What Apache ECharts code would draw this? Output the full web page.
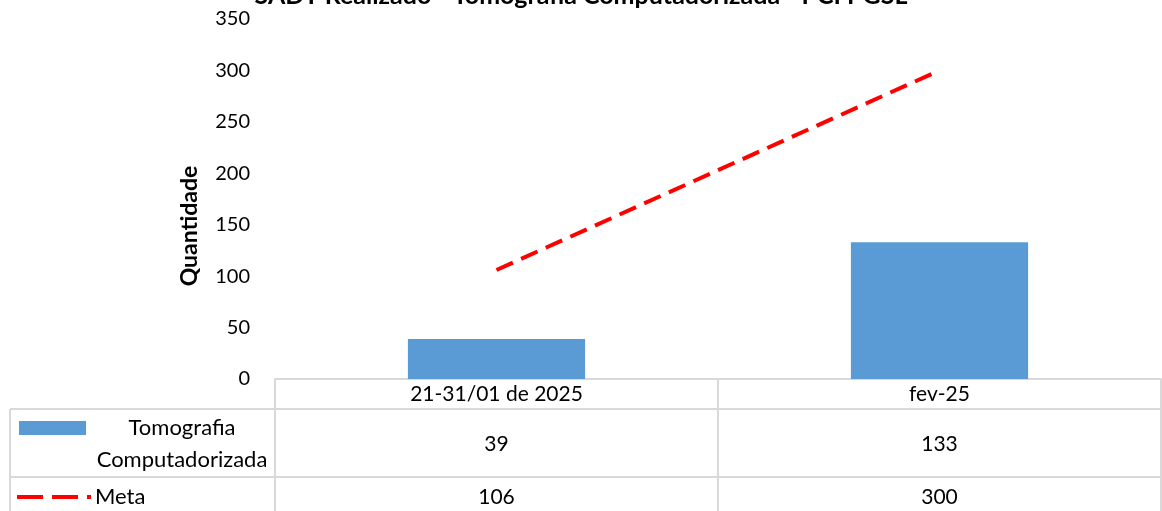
<!DOCTYPE html>
<html><head><meta charset="utf-8">
<script src="https://cdn.jsdelivr.net/npm/echarts@6/dist/echarts.min.js"></script>
<style>html,body{margin:0;padding:0;background:#fff}#c{width:1162px;height:511px}</style>
</head><body><div id="c"></div>
<script>
const chartTitle = 'SADT Realizado - Tomografia Computadorizada - PCI PGSL';
const categories = ['21-31/01 de 2025', 'fev-25'];
const tomografia = [39, 133];
const meta = [106, 300];
const seriesNames = ['Tomografia Computadorizada', 'Meta'];
const tableLabels = ['Tomografia\nComputadorizada', 'Meta'];
const yAxisName = 'Quantidade';
const yMin = 0, yMax = 350, yStep = 50;

const FONT = 'Lato';
const BLUE = '#5B9BD5';
const RED = '#FF0000';
const GRID = '#D9D9D9';

const chart = echarts.init(document.getElementById('c'), null, {renderer: 'canvas'});
chart.setOption({
  animation: false,
  backgroundColor: '#fff',
  textStyle: {fontFamily: FONT},
  title: {
    text: chartTitle, left: 'center', top: -22,
    textStyle: {fontFamily: FONT, fontSize: 25, fontWeight: 'bold', color: '#000'}
  },
  grid: {left: 275, right: 1, top: 19, bottom: 132, containLabel: false},
  xAxis: {
    type: 'category', data: categories, boundaryGap: true,
    axisLine: {lineStyle: {color: GRID, width: 2}},
    axisTick: {show: false},
    axisLabel: {fontFamily: FONT, fontSize: 21, color: '#000', margin: 4, lineHeight: 22},
    splitLine: {show: false}
  },
  yAxis: {
    type: 'value', min: yMin, max: yMax, interval: yStep,
    axisLine: {show: false}, axisTick: {show: false},
    splitLine: {show: false},
    axisLabel: {fontFamily: FONT, fontSize: 20, color: '#000', margin: 25}
  },
  series: [
    {name: seriesNames[0], type: 'bar', data: tomografia, barWidth: '40%',
     itemStyle: {color: BLUE}},
    {name: seriesNames[1], type: 'line', data: meta, symbol: 'none',
     lineStyle: {color: RED, width: 4, type: [18, 9]}}
  ]
});

// Build the data table beneath the plot
const x0 = 275, xEnd = 1161, yTop = 379, yR1 = 409, yR2 = 477, yBot = 511;
const centers = categories.map(c => chart.convertToPixel({xAxisIndex: 0}, c));
const g = [];
function hline(x1, x2, y) { g.push({type: 'line', shape: {x1, y1: y, x2, y2: y}, style: {stroke: GRID, lineWidth: 2}, silent: true}); }
function vline(x, y1, y2) { g.push({type: 'line', shape: {x1: x, y1, x2: x, y2}, style: {stroke: GRID, lineWidth: 2}, silent: true}); }
hline(10, 1162, yR1);
hline(10, 1162, yR2);
vline(10, yR1, yBot);
vline(x0, yTop, yBot);
const colW = (xEnd - x0) / categories.length;
for (let i = 1; i <= categories.length; i++) vline(x0 + colW * i, yTop, yBot);

// legend keys
g.push({type: 'rect', shape: {x: 19, y: 421, width: 67, height: 14}, style: {fill: BLUE}, silent: true});
g.push({type: 'line', shape: {x1: 17, y1: 497, x2: 91, y2: 497}, style: {stroke: RED, lineWidth: 4, lineDash: [26, 9]}, silent: true});
g.push({type: 'text', x: 182, y: 444, style: {text: tableLabels[0], font: '22px ' + FONT, fill: '#000', align: 'center', verticalAlign: 'middle', lineHeight: 32}, silent: true});
g.push({type: 'text', x: 95, y: 497, style: {text: tableLabels[1], font: '22px ' + FONT, fill: '#000', align: 'left', verticalAlign: 'middle'}, silent: true});
const rowsY = [444, 497];
[tomografia, meta].forEach((arr, r) => {
  arr.forEach((v, i) => {
    g.push({type: 'text', x: centers[i], y: rowsY[r], style: {text: String(v), font: '21px ' + FONT, fill: '#000', align: 'center', verticalAlign: 'middle'}, silent: true});
  });
});
// rotated axis title
g.push({type: 'text', x: 190, y: 226, rotation: Math.PI / 2, style: {text: yAxisName, font: 'bold 23px ' + FONT, fill: '#000', align: 'center', verticalAlign: 'middle'}, silent: true});

chart.setOption({graphic: g});
</script>
</body></html>
